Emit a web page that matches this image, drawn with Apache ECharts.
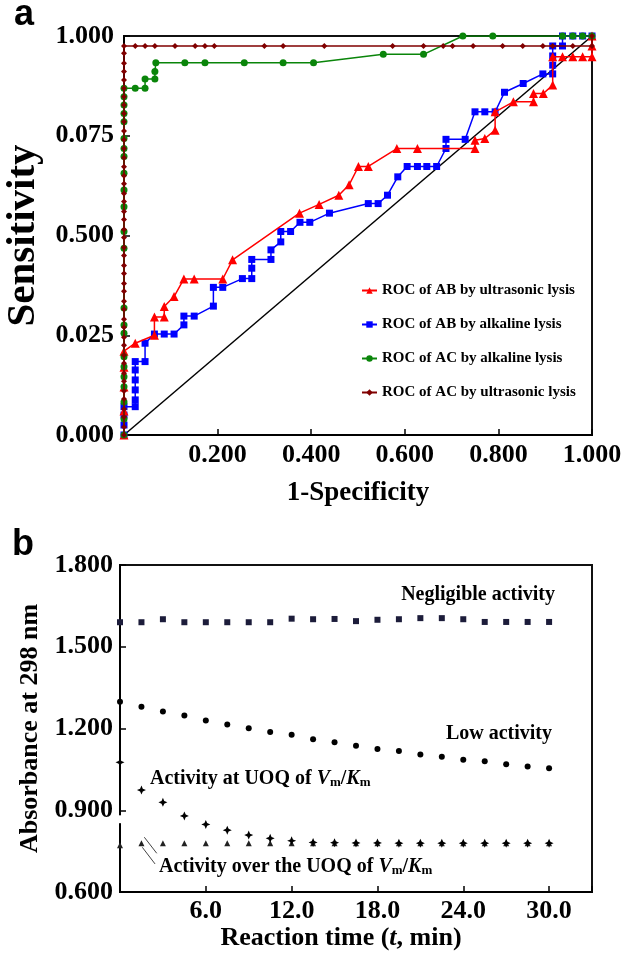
<!DOCTYPE html>
<html><head><meta charset="utf-8">
<script src="https://cdn.jsdelivr.net/npm/echarts@6/dist/echarts.min.js"></script>
<style>html,body{margin:0;padding:0;background:#fff}#c{width:626px;height:955px}</style>
</head><body><div id="c"></div>
<script>
const F = '"Liberation Serif","Times New Roman",serif';

// ---------- Panel a : ROC curves ----------
const yTickLabelsA = ['0.000', '0.025', '0.500', '0.075', '1.000'];
const xTickLabelsA = ['', '0.200', '0.400', '0.600', '0.800', '1.000'];
const seriesNamesA = ['ROC of AB by ultrasonic lysis', 'ROC of AB by alkaline lysis', 'ROC of AC by alkaline lysis', 'ROC of AC by ultrasonic lysis'];
const diagLine = [[0, 0], [1, 1]];
const rocABUltrasonic = [[0,0],[0,0.06],[0,0.12],[0,0.17],[0,0.21],[0.024,0.23],[0.065,0.25],[0.065,0.296],[0.086,0.296],[0.086,0.322],[0.107,0.347],[0.128,0.391],[0.15,0.391],[0.211,0.391],[0.232,0.439],[0.375,0.556],[0.417,0.578],[0.459,0.601],[0.481,0.627],[0.501,0.673],[0.522,0.673],[0.583,0.718],[0.627,0.718],[0.75,0.718],[0.75,0.739],[0.771,0.743],[0.793,0.764],[0.793,0.81],[0.832,0.835],[0.875,0.835],[0.875,0.856],[0.896,0.856],[0.916,0.877],[0.916,0.948],[0.937,0.948],[0.959,0.948],[0.98,0.948],[1.0,0.948],[1.0,0.975],[1,1]];
const rocABAlkaline = [[0,0],[0,0.025],[0,0.05],[0,0.071],[0.024,0.071],[0.024,0.088],[0.024,0.113],[0.024,0.138],[0.024,0.163],[0.024,0.184],[0.045,0.184],[0.045,0.23],[0.065,0.253],[0.086,0.253],[0.107,0.253],[0.128,0.276],[0.128,0.298],[0.15,0.298],[0.191,0.323],[0.191,0.37],[0.211,0.37],[0.253,0.392],[0.273,0.392],[0.273,0.418],[0.273,0.44],[0.314,0.44],[0.314,0.464],[0.335,0.484],[0.335,0.51],[0.356,0.51],[0.376,0.533],[0.397,0.533],[0.439,0.556],[0.522,0.58],[0.543,0.58],[0.563,0.601],[0.585,0.647],[0.605,0.673],[0.627,0.673],[0.647,0.673],[0.668,0.673],[0.688,0.718],[0.688,0.741],[0.729,0.741],[0.75,0.81],[0.771,0.81],[0.793,0.81],[0.813,0.859],[0.853,0.881],[0.895,0.905],[0.916,0.905],[0.916,0.927],[0.916,0.95],[0.916,0.975],[0.937,0.975],[0.937,1.0],[0.959,1.0],[0.98,1.0],[1.0,1.0]];
const rocACAlkaline = [[0,0],[0,0.04],[0,0.083],[0,0.121],[0,0.146],[0,0.171],[0,0.196],[0,0.255],[0,0.276],[0,0.318],[0,0.468],[0,0.51],[0,0.572],[0,0.614],[0,0.656],[0,0.698],[0,0.718],[0,0.743],[0,0.785],[0,0.806],[0,0.827],[0,0.848],[0,0.869],[0.024,0.869],[0.045,0.869],[0.045,0.892],[0.066,0.892],[0.066,0.911],[0.068,0.933],[0.13,0.933],[0.173,0.933],[0.257,0.933],[0.34,0.933],[0.405,0.933],[0.554,0.954],[0.64,0.954],[0.724,1.0],[0.788,1.0],[0.937,1.0],[0.959,1.0],[0.98,1.0],[1.0,1.0]];
const rocACUltrasonic = [[0,0],[0,0.02],[0,0.045],[0,0.065],[0,0.09],[0,0.11],[0,0.135],[0,0.155],[0,0.18],[0,0.2],[0,0.225],[0,0.245],[0,0.27],[0,0.29],[0,0.315],[0,0.335],[0,0.36],[0,0.38],[0,0.405],[0,0.425],[0,0.45],[0,0.47],[0,0.495],[0,0.515],[0,0.54],[0,0.56],[0,0.585],[0,0.605],[0,0.63],[0,0.65],[0,0.672],[0,0.695],[0,0.718],[0,0.74],[0,0.762],[0,0.785],[0,0.806],[0,0.827],[0,0.848],[0,0.869],[0,0.89],[0,0.911],[0,0.932],[0,0.957],[0,0.975],[0.024,0.975],[0.045,0.975],[0.066,0.975],[0.109,0.975],[0.152,0.975],[0.173,0.975],[0.193,0.975],[0.30,0.975],[0.34,0.975],[0.428,0.975],[0.574,0.975],[0.64,0.975],[0.682,0.975],[0.702,0.975],[0.746,0.975],[0.809,0.975],[0.852,0.975],[0.895,0.975],[0.916,0.975],[0.959,0.975],[1.0,0.975],[1,1]];

// ---------- Panel b : absorbance vs time ----------
const timeMin = [0,1.5,3,4.5,6,7.5,9,10.5,12,13.5,15,16.5,18,19.5,21,22.5,24,25.5,27,28.5,30];
const negligible = [1.590,1.590,1.601,1.590,1.590,1.590,1.590,1.590,1.603,1.601,1.602,1.594,1.599,1.601,1.605,1.605,1.601,1.591,1.591,1.591,1.591];
const lowActivity = [1.298,1.280,1.262,1.248,1.229,1.215,1.201,1.187,1.177,1.161,1.150,1.137,1.125,1.117,1.105,1.096,1.085,1.080,1.069,1.061,1.054];
const atUOQ = [1.076,0.974,0.929,0.879,0.848,0.827,0.809,0.797,0.788,0.782,0.781,0.780,0.780,0.779,0.779,0.779,0.779,0.779,0.779,0.779,0.779];
const overUOQOpen = [0.867,0.812,0.793,0.772,0.770,0.770,0.770,0.770,0.770,0.770,0.772,0.776,0.776,0.776,0.776,0.776,0.776,0.776,0.776,0.776,0.776];
const overUOQFilled = [0.772,0.779,0.779,0.779,0.779,0.779,0.779,0.779,0.779,0.779,0.779,0.779,0.779,0.779,0.779,0.779,0.779,0.779,0.779,0.779,0.779];
const leaderLines = [[[1.70,0.801],[2.57,0.742]],[[1.56,0.764],[2.45,0.703]]];

const pair = (xs, ys) => xs.map((x, i) => [x, ys[i]]);
const starPath = 'path://M0,-10 L3,-3 L10,0 L3,3 L0,10 L-3,3 L-10,0 L-3,-3 Z';

const lbl = {fontFamily: F, fontWeight: 'bold', fontSize: 26, color: '#000'};
const nameStyle = {fontFamily: F, fontWeight: 'bold', fontSize: 27, color: '#000'};
const nameStyleB = {fontFamily: F, fontWeight: 'bold', fontSize: 26, color: '#000'};
const axLine = {show: true, lineStyle: {color: '#000', width: 2}};
const tick = {show: true, inside: true, length: 6, lineStyle: {color: '#000', width: 1.5}};

const chart = echarts.init(document.getElementById('c'), null, {renderer: 'canvas'});
const lineSeries = (name, data, symbol, size, color, z) => ({
  name, type: 'line', xAxisIndex: 0, yAxisIndex: 0, data, symbol, symbolSize: size,
  itemStyle: {color, opacity: 1}, lineStyle: {color, width: 1.5}, z
});
const richV = {
  n: {fontFamily: F, fontWeight: 'bold', fontSize: 20, color: '#000'},
  i: {fontFamily: F, fontWeight: 'bold', fontStyle: 'italic', fontSize: 20, color: '#000'},
  s: {fontFamily: F, fontWeight: 'bold', fontSize: 13, color: '#000', verticalAlign: 'bottom'}
};

chart.setOption({
  animation: false,
  backgroundColor: '#fff',
  grid: [
    {left: 124, top: 36, width: 468, height: 399, show: true, borderColor: '#111', borderWidth: 2, backgroundColor: 'transparent', containLabel: false, outerBoundsMode: 'none'},
    {left: 120, top: 565, width: 472, height: 327, show: true, borderColor: '#111', borderWidth: 2, backgroundColor: 'transparent', containLabel: false, outerBoundsMode: 'none'}
  ],
  legend: {
    data: seriesNamesA, orient: 'vertical', left: 356, top: 278, itemWidth: 15, itemHeight: 8, itemGap: 19,
    textStyle: {fontFamily: F, fontWeight: 'bold', fontSize: 15, color: '#000'}
  },
  xAxis: [
    {gridIndex: 0, type: 'value', min: 0, max: 1, interval: 0.2, axisLine: axLine, axisTick: tick, splitLine: {show: false},
     axisLabel: Object.assign({margin: 7, formatter: v => xTickLabelsA[Math.round(v / 0.2)] || ''}, lbl),
     name: '1-Specificity', nameLocation: 'middle', nameGap: 45, nameTextStyle: nameStyle},
    {gridIndex: 1, type: 'value', min: 0, max: 33, interval: 6, axisLine: axLine, axisTick: tick, splitLine: {show: false},
     axisLabel: Object.assign({margin: 6, formatter: v => (v === 0 || v > 30) ? '' : v.toFixed(1)}, lbl),
     name: '{n|Reaction time (}{i|t}{n|, min)}', nameLocation: 'middle', nameGap: 32,
     nameTextStyle: Object.assign({padding: [0, 30, 0, 0], rich: {n: nameStyleB, i: Object.assign({}, nameStyleB, {fontStyle: 'italic'})}}, nameStyleB)}
  ],
  yAxis: [
    {gridIndex: 0, type: 'value', min: 0, max: 1, interval: 0.25, axisLine: axLine, axisTick: tick, splitLine: {show: false},
     axisLabel: Object.assign({margin: 10, formatter: v => yTickLabelsA[Math.round(v / 0.25)]}, lbl),
     name: 'Sensitivity', nameLocation: 'middle', nameGap: 80, nameRotate: 90,
     nameTextStyle: Object.assign({}, nameStyle, {fontSize: 41})},
    {gridIndex: 1, type: 'value', min: 0.6, max: 1.8, interval: 0.3, axisLine: axLine, axisTick: tick, splitLine: {show: false},
     axisLabel: Object.assign({margin: 7, formatter: v => v.toFixed(3)}, lbl),
     name: 'Absorbance at 298 nm', nameLocation: 'middle', nameGap: 75, nameRotate: 90, nameTextStyle: nameStyleB}
  ],
  series: [
    {name: 'diag', type: 'line', xAxisIndex: 0, yAxisIndex: 0, data: diagLine, symbol: 'none', lineStyle: {color: '#000', width: 1.5}, z: 1},
    lineSeries(seriesNamesA[0], rocABUltrasonic, 'triangle', 9, '#ff0000', 3),
    lineSeries(seriesNamesA[1], rocABAlkaline, 'rect', 7, '#0000ff', 2),
    lineSeries(seriesNamesA[2], rocACAlkaline, 'circle', 7, '#0a850a', 4),
    lineSeries(seriesNamesA[3], rocACUltrasonic, 'diamond', 6, '#800000', 5),
    {name: 'Negligible', type: 'scatter', xAxisIndex: 1, yAxisIndex: 1, data: pair(timeMin, negligible), symbol: 'rect', symbolSize: 6, itemStyle: {color: '#1c1c3a', opacity: 1}},
    {name: 'Low', type: 'scatter', xAxisIndex: 1, yAxisIndex: 1, data: pair(timeMin, lowActivity), symbol: 'circle', symbolSize: 6, itemStyle: {color: '#000', opacity: 1}},
    {name: 'OverOpen', type: 'scatter', xAxisIndex: 1, yAxisIndex: 1, data: pair(timeMin, overUOQOpen), symbol: 'emptyCircle', symbolSize: 6, itemStyle: {color: '#fff', borderColor: '#444', borderWidth: 1, opacity: 1}, z: 2,
     markLine: {silent: true, symbol: 'none', label: {show: false}, lineStyle: {color: '#444', width: 1, type: 'solid'},
       data: leaderLines.map(l => [{coord: l[0]}, {coord: l[1]}])}},
    {name: 'OverFilled', type: 'scatter', xAxisIndex: 1, yAxisIndex: 1, data: pair(timeMin, overUOQFilled), symbol: 'triangle', symbolSize: 6, itemStyle: {color: '#222', opacity: 1}, z: 3},
    {name: 'UOQ', type: 'scatter', xAxisIndex: 1, yAxisIndex: 1, data: pair(timeMin, atUOQ), symbol: starPath, symbolSize: 9, itemStyle: {color: '#000', opacity: 1}, z: 4}
  ],
  graphic: [
    {type: 'text', left: 14, top: -3, style: {text: 'a', font: 'bold 36px "Liberation Sans", Arial, sans-serif', fill: '#000'}},
    {type: 'text', left: 12, top: 527, style: {text: 'b', font: 'bold 36px "Liberation Sans", Arial, sans-serif', fill: '#000'}},
    {type: 'text', right: 71, top: 585, style: {text: 'Negligible activity', font: 'bold 20px ' + F, fill: '#000'}},
    {type: 'text', right: 74, top: 724, style: {text: 'Low activity', font: 'bold 20px ' + F, fill: '#000'}},
    {type: 'text', left: 150, top: 769, style: {text: '{n|Activity at UOQ of }{i|V}{s|m}{n|/}{i|K}{s|m}', rich: richV}},
    {type: 'text', left: 159, top: 857, style: {text: '{n|Activity over the UOQ of }{i|V}{s|m}{n|/}{i|K}{s|m}', rich: richV}}
  ]
});
</script></body></html>
